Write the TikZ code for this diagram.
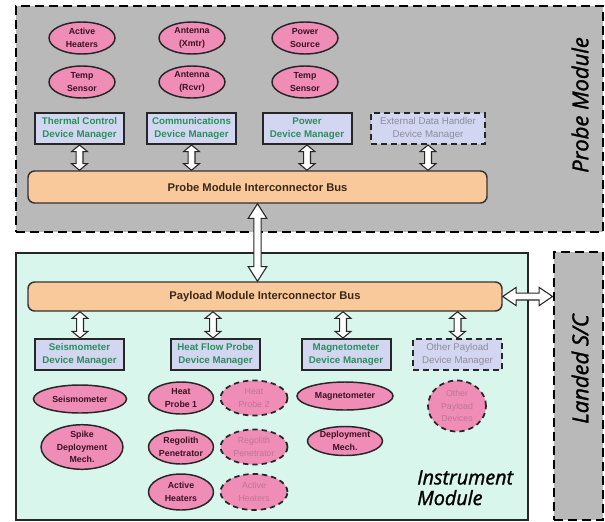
\documentclass[tikz,border=0pt]{standalone}
\usepackage{fontspec}
\setmainfont{Liberation Sans}
\newfontfamily\osans[ItalicFeatures={FakeBold=1.4}]{Open Sans}
\usetikzlibrary{shapes.geometric,calc}
\definecolor{probegray}{HTML}{B9B9B9}
\definecolor{mint}{HTML}{D9F6EC}
\definecolor{busorange}{HTML}{F9C99B}
\definecolor{mgrfill}{HTML}{D3D6F0}
\definecolor{mgrtext}{HTML}{2A8F5C}
\definecolor{mgrgray}{HTML}{8C8C9C}
\definecolor{pink}{HTML}{EF8DB7}
\definecolor{elltext}{HTML}{3A1222}
\definecolor{fadetext}{HTML}{BE7596}
\definecolor{bustext}{HTML}{3A2818}
\tikzset{
  dashbox/.style={draw=black, line width=2.2pt, dash pattern=on 6.5pt off 4pt},
  mgr/.style={draw=black!85, line width=1.5pt, fill=mgrfill, text=mgrtext,
    minimum width=66.75pt, minimum height=23.25pt, inner sep=0pt, align=center,
    font=\bfseries\fontsize{7.3}{9.5}\selectfont},
  mgrdash/.style={mgr, dash pattern=on 4.5pt off 3pt, text=mgrgray, font=\fontsize{7.3}{9.5}\selectfont},
  ell/.style 2 args={ellipse, draw=black!85, line width=1.1pt, fill=pink, text=elltext,
    minimum width=#1*0.75pt, minimum height=#2*0.75pt, inner sep=0pt, align=center,
    font=\bfseries\fontsize{6.6}{9.4}\selectfont},
  elld/.style 2 args={ell={#1}{#2}, dash pattern=on 4pt off 3pt, line width=1.3pt,
    text=fadetext, font=\fontsize{6.6}{9.4}\selectfont},
  bus/.style={draw=black!80, line width=1.1pt, fill=busorange, rounded corners=5pt,
    text=bustext, font=\bfseries\fontsize{8.4}{10}\selectfont, inner sep=0pt},
  fat/.style={draw=black!85, fill=white, line width=0.8pt, line join=miter},
  title/.style={font=\osans\itshape\fontsize{16.5}{20}\selectfont},
}
% #1 start, #2 end, #3 shaft half width, #4 head half width, #5 head length
\newcommand\fatarrow[5]{%
  \path[fat] let \p1=(#1), \p2=(#2), \n1={atan2(\y2-\y1,\x2-\x1)} in
    (\p1) -- ($(\p1)+(\n1:#5)+(\n1+90:#4)$) -- ($(\p1)+(\n1:#5)+(\n1+90:#3)$)
    -- ($(\p2)+(\n1:-#5)+(\n1+90:#3)$) -- ($(\p2)+(\n1:-#5)+(\n1+90:#4)$)
    -- (\p2) -- ($(\p2)+(\n1:-#5)+(\n1-90:#4)$) -- ($(\p2)+(\n1:-#5)+(\n1-90:#3)$)
    -- ($(\p1)+(\n1:#5)+(\n1-90:#3)$) -- ($(\p1)+(\n1:#5)+(\n1-90:#4)$) -- cycle;}
\begin{document}
\begin{tikzpicture}[x=0.75pt,y=-0.75pt]
\useasboundingbox (0,0) rectangle (605,521);
% module frames
\node[dashbox, fill=probegray, minimum width=440.25pt, minimum height=169.5pt, inner sep=0pt]
  (probe) at (309.5,119) {};
\node[draw=black!85, line width=1.6pt, fill=mint, minimum width=384pt, minimum height=200.25pt, inner sep=0pt]
  (instr) at (272,386.5) {};
\node[dashbox, fill=probegray, minimum width=36.75pt, minimum height=201pt, inner sep=0pt]
  (landed) at (578.5,386) {};
\node[rotate=90, title] (probet) at (580,105) {Probe Module};
\node[rotate=90, title] (landt) at (580,369) {Landed S/C};
\node[align=left, anchor=north west, inner sep=0pt, font=\osans\itshape\fontsize{14.8}{15.5}\selectfont]
  (instrt) at (417,470) {Instrument\\Module};
% buses
\node[bus, minimum width=344.25pt, minimum height=24pt] (pbus) at (257.5,187) {Probe Module Interconnector Bus};
\node[bus, minimum width=355.5pt, minimum height=21.75pt] (ybus) at (265,296.5) {Payload Module Interconnector Bus};
% probe managers
\node[mgr] (tc) at (79.5,128.5) {Thermal Control\\Device Manager};
\node[mgr] (cm) at (191.5,128.5) {Communications\\Device Manager};
\node[mgr] (pw) at (307,128.5) {Power\\Device Manager};
\node[mgrdash, minimum width=85.5pt] (ed) at (428,128.5) {External Data Handler\\Device Manager};
% probe devices
\node[ell={66}{32}] (ah) at (82,38) {Active\\Heaters};
\node[ell={66}{32}] (ts1) at (82,82) {Temp\\Sensor};
\node[ell={66}{32}] (ax) at (192,38) {Antenna\\(Xmtr)};
\node[ell={66}{32}] (ar) at (192,82) {Antenna\\(Rcvr)};
\node[ell={66}{32}] (ps) at (305,38) {Power\\Source};
\node[ell={66}{32}] (ts2) at (305,82) {Temp\\Sensor};
% instrument managers
\node[mgr] (sm) at (79.5,354.5) {Seismometer\\Device Manager};
\node[mgr] (hf) at (215.5,354.5) {Heat Flow Probe\\Device Manager};
\node[mgr] (mg) at (346,354.5) {Magnetometer\\Device Manager};
\node[mgrdash] (op) at (457.5,354.5) {Other Payload\\Device Manager};
% instrument devices
\node[ell={93}{28}] (seis) at (80,399) {Seismometer};
\node[ell={82}{42}] (spike) at (82,447) {Spike\\Deployment\\Mech.};
\node[ell={65}{32}] (hp1) at (181,398) {Heat\\Probe 1};
\node[elld={67}{35}] (hp2) at (254,398) {Heat\\Probe 2};
\node[ell={65}{34}] (rp1) at (181,447) {Regolith\\Penetrator};
\node[elld={67}{35}] (rp2) at (254,447) {Regolith\\Penetrator};
\node[ell={65}{36}] (ah1) at (181,492) {Active\\Heaters};
\node[elld={67}{36}] (ah2) at (254,492) {Active\\Heaters};
\node[ell={96}{28}] (mag) at (345,396) {Magnetometer};
\node[ell={75}{29}] (dep) at (345,441) {Deployment\\Mech.};
\node[elld={58}{51}] (opd) at (457,406) {Other\\Payload\\Devices};
% connectors
\fatarrow{tc.south}{tc.south |- pbus.north}{2.6pt}{6pt}{5pt}
\fatarrow{cm.south}{cm.south |- pbus.north}{2.6pt}{6pt}{5pt}
\fatarrow{pw.south}{pw.south |- pbus.north}{2.6pt}{6pt}{5pt}
\fatarrow{ed.south}{ed.south |- pbus.north}{2.6pt}{6pt}{5pt}
\fatarrow{sm.north -| 80,0}{80,0 |- ybus.south}{2.6pt}{6pt}{5pt}
\fatarrow{hf.north -| 213,0}{213,0 |- ybus.south}{2.6pt}{6pt}{5pt}
\fatarrow{mg.north -| 343,0}{343,0 |- ybus.south}{2.6pt}{6pt}{5pt}
\fatarrow{op.north}{op.north |- ybus.south}{2.6pt}{6pt}{5pt}
\fatarrow{pbus.south}{pbus.south |- ybus.north}{2.7pt}{7pt}{11pt}
\fatarrow{ybus.east}{landed.west |- ybus.east}{2.6pt}{6.8pt}{10pt}
\end{tikzpicture}
\end{document}
